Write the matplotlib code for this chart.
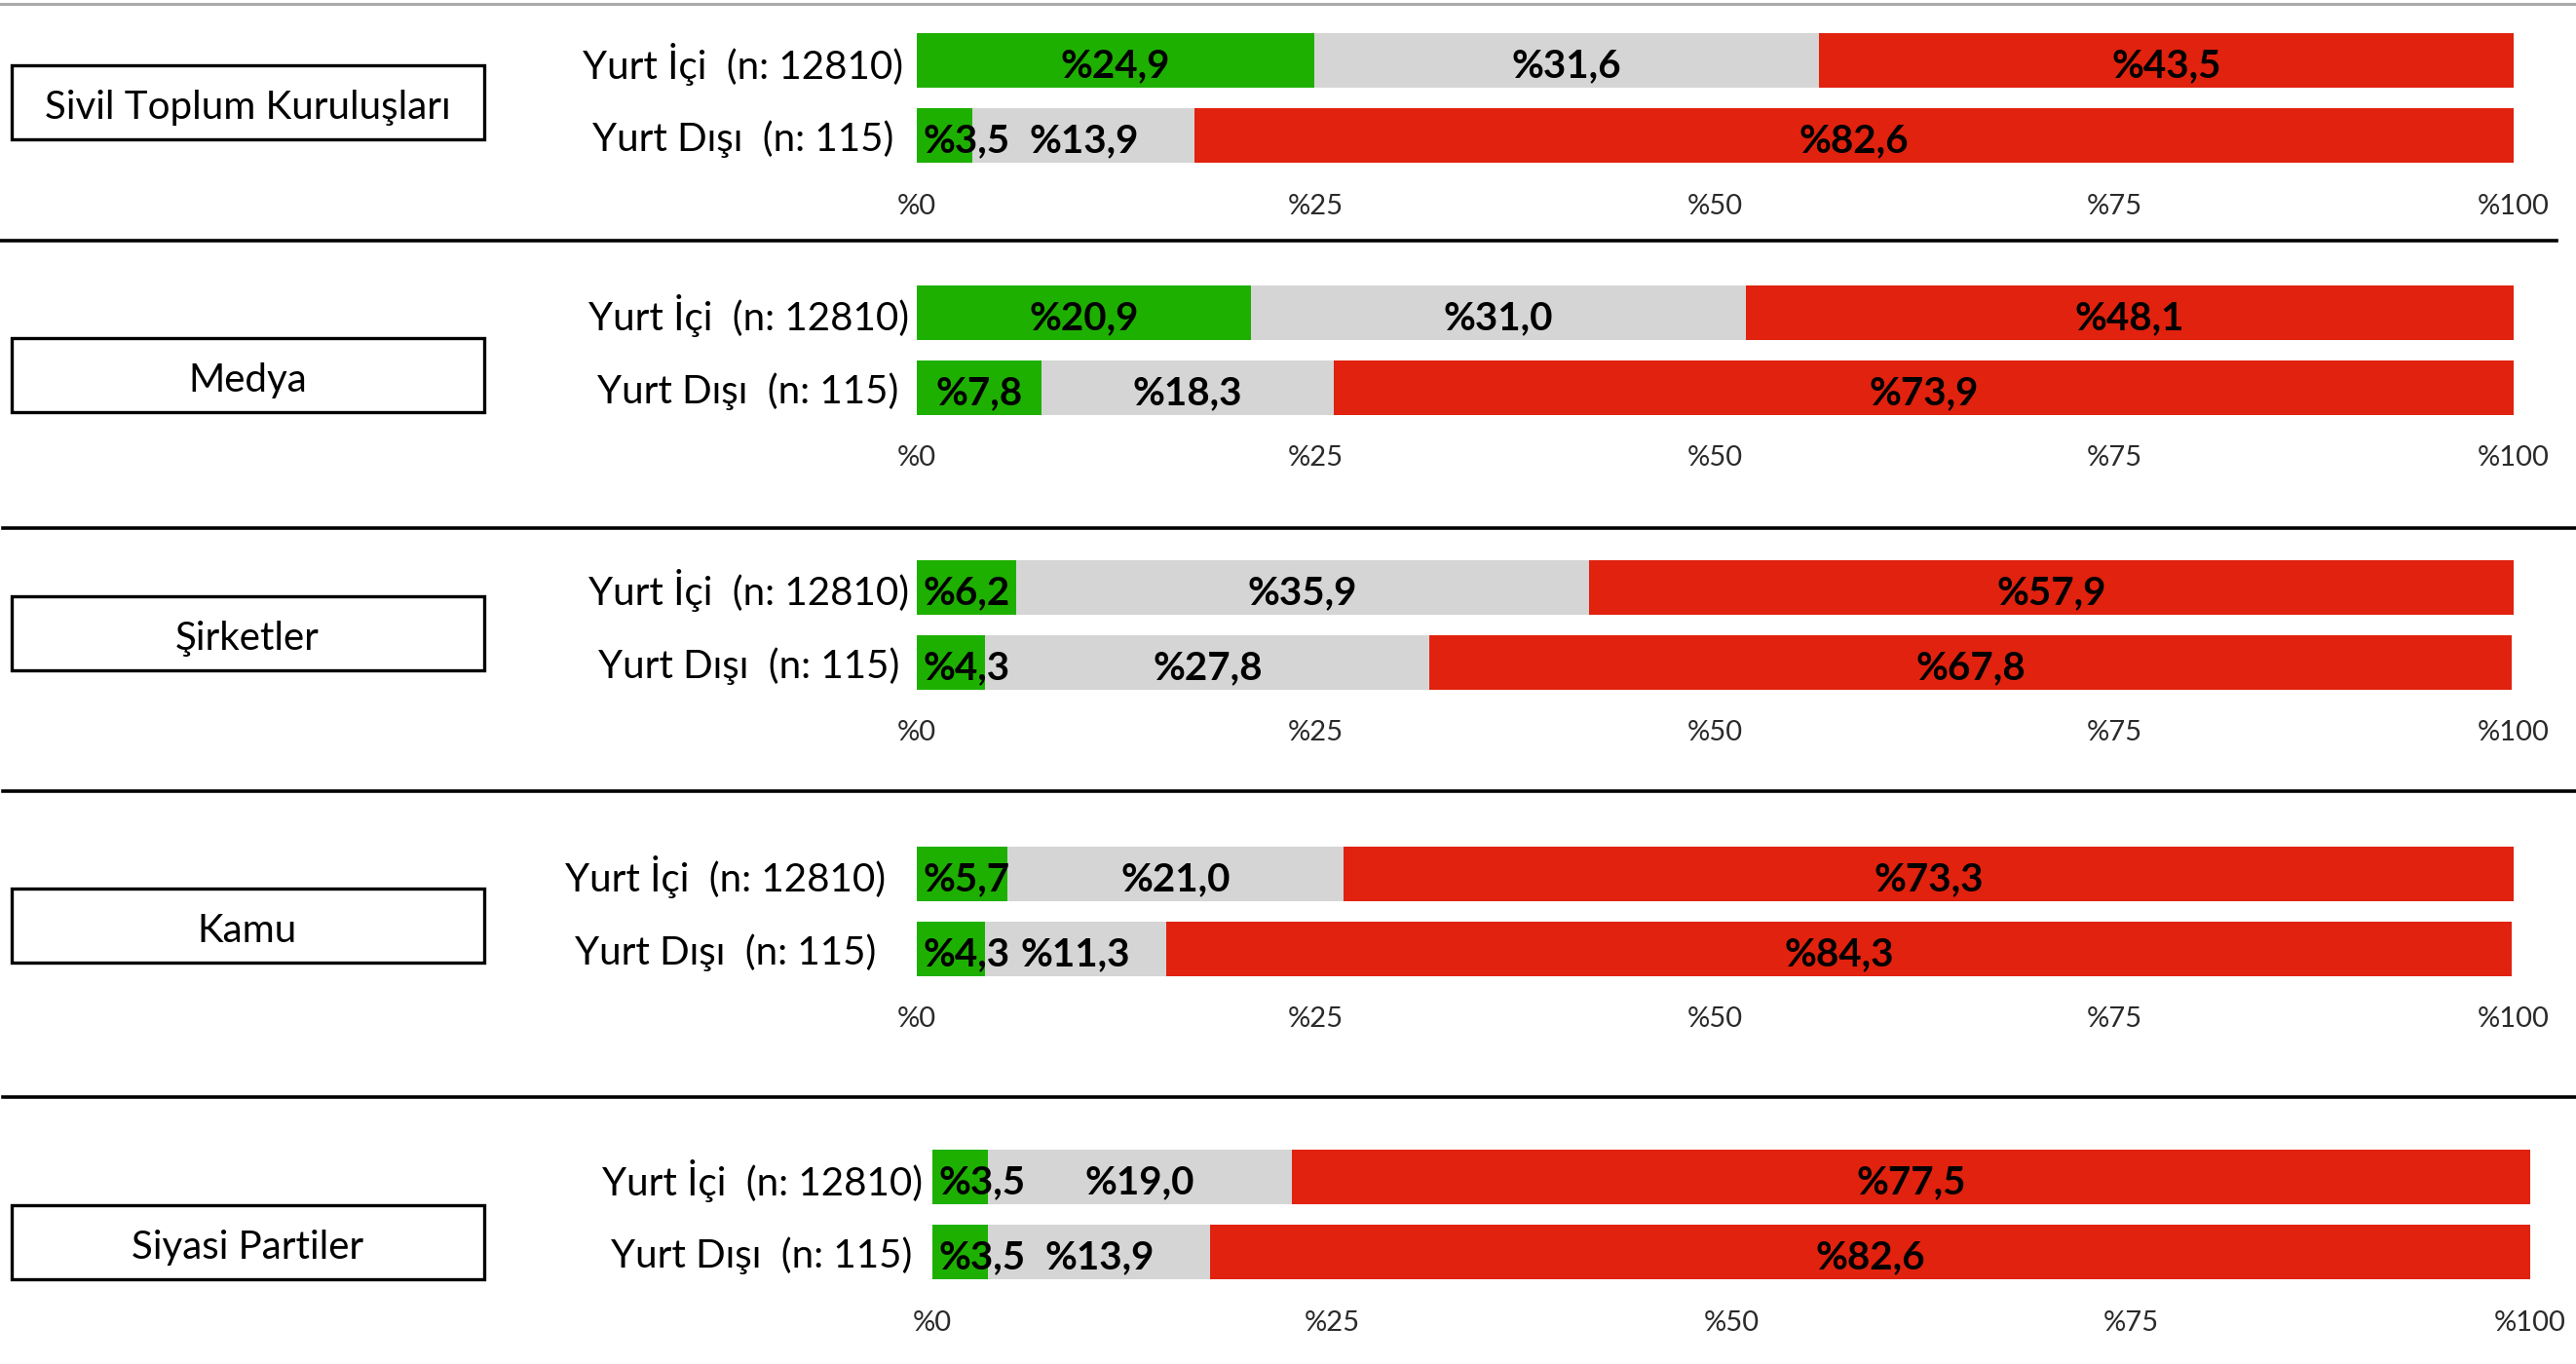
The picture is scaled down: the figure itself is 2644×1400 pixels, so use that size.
"""
Stacked horizontal bars: Yurt İçi vs Yurt Dışı per institution type.
Five small panels stacked on one canvas, each with a boxed category name.
"""

import matplotlib

matplotlib.use("Agg")
import matplotlib.pyplot as plt
import matplotlib.patches as mpatches
from matplotlib.lines import Line2D

CATEGORIES = ["Sivil Toplum Kuruluşları", "Medya", "Şirketler", "Kamu", "Siyasi Partiler"]
GROUPS = ["Yurt İçi  (n: 12810)", "Yurt Dışı  (n: 115)"]

# [yurt ici, yurt disi] for each category
POSITIVE = [[24.9, 3.5], [20.9, 7.8], [6.2, 4.3], [5.7, 4.3], [3.5, 3.5]]
NEUTRAL = [[31.6, 13.9], [31.0, 18.3], [35.9, 27.8], [21.0, 11.3], [19.0, 13.9]]
NEGATIVE = [[43.5, 82.6], [48.1, 73.9], [57.9, 67.8], [73.3, 84.3], [77.5, 82.6]]

TICKS = [0, 25, 50, 75, 100]
TICK_LABELS = ["%0", "%25", "%50", "%75", "%100"]

COLORS = ["#1eb000", "#d5d5d5", "#e0220e"]
FONT = ["Lato", "DejaVu Sans"]

W, H = 2644, 1400

# layout in pixels of the output picture
PANELS = [
    dict(x0=941, x1=2580, top=34, label_dx=178, box_top=67, tick_pad=22),
    dict(x0=941, x1=2580, top=293, label_dx=173, box_top=347, tick_pad=20),
    dict(x0=941, x1=2580, top=575, label_dx=172, box_top=612, tick_pad=20),
    dict(x0=941, x1=2580, top=869, label_dx=196, box_top=912, tick_pad=21),
    dict(x0=957, x1=2597, top=1180, label_dx=175, box_top=1237, tick_pad=22),
]
SEPARATORS = [(247, 0, 2624), (542, 3, 2644), (812, 3, 2644), (1126, 3, 2644)]
PITCH = 77
BAR_H = 56


def fig_rect(x, y_top, w, h):
    return [x / W, 1 - (y_top + h) / H, w / W, h / H]


def pct(v):
    return "%" + f"{v:.1f}".replace(".", ",")


def main():
    plt.rcParams["font.family"] = FONT
    fig = plt.figure(figsize=(W / 100, H / 100), dpi=100)

    # thin gray line along the very top
    fig.add_artist(Line2D([0, 1], [1 - 4 / H, 1 - 4 / H], color="#aaaaaa", lw=2.2,
                          transform=fig.transFigure))
    for y, xa, xb in SEPARATORS:
        fig.add_artist(Line2D([xa / W, xb / W], [1 - y / H, 1 - y / H], color="black",
                              lw=2.6, transform=fig.transFigure))

    for i, p in enumerate(PANELS):
        ax_top = p["top"] - (PITCH - BAR_H) / 2
        ax = fig.add_axes(fig_rect(p["x0"], ax_top, p["x1"] - p["x0"], 2 * PITCH))
        ax.set_xlim(0, 100)
        ax.set_ylim(1.5, -0.5)
        for s in ax.spines.values():
            s.set_visible(False)

        rows = [0, 1]
        left = [0.0, 0.0]
        for vals, color in zip([POSITIVE[i], NEUTRAL[i], NEGATIVE[i]], COLORS):
            ax.barh(rows, vals, left=left, height=BAR_H / PITCH, color=color, lw=0)
            for r, v, l in zip(rows, vals, left):
                if v < 6:
                    # narrow segment: label starts at the segment edge
                    ax.text(l + 0.4, r + 0.03, pct(v), ha="left", va="center_baseline",
                            fontsize=29, fontweight="bold", color="black")
                else:
                    ax.text(l + v / 2, r + 0.03, pct(v), ha="center", va="center_baseline",
                            fontsize=29, fontweight="bold", color="black")
            left = [a + b for a, b in zip(left, vals)]

        ax.set_xticks(TICKS, labels=TICK_LABELS)
        ax.tick_params(axis="x", length=0, pad=p["tick_pad"] * 0.72, labelsize=21,
                       labelcolor="#2a2a2a")

        ax.set_yticks(rows, labels=GROUPS)
        ax.tick_params(axis="y", length=0, pad=p["label_dx"] * 0.72, labelsize=29)
        for t in ax.get_yticklabels():
            t.set_horizontalalignment("center")

        # boxed category name on the left
        fig.add_artist(mpatches.Rectangle(
            (12 / W, 1 - (p["box_top"] + 76) / H), 485 / W, 76 / H,
            transform=fig.transFigure, fill=False, edgecolor="black", lw=2.4))
        fig.text(254 / W, 1 - (p["box_top"] + 40) / H, CATEGORIES[i], ha="center",
                 va="center_baseline", fontsize=29)

    fig.savefig("out.png", dpi=100)
    plt.close(fig)


if __name__ == "__main__":
    main()
